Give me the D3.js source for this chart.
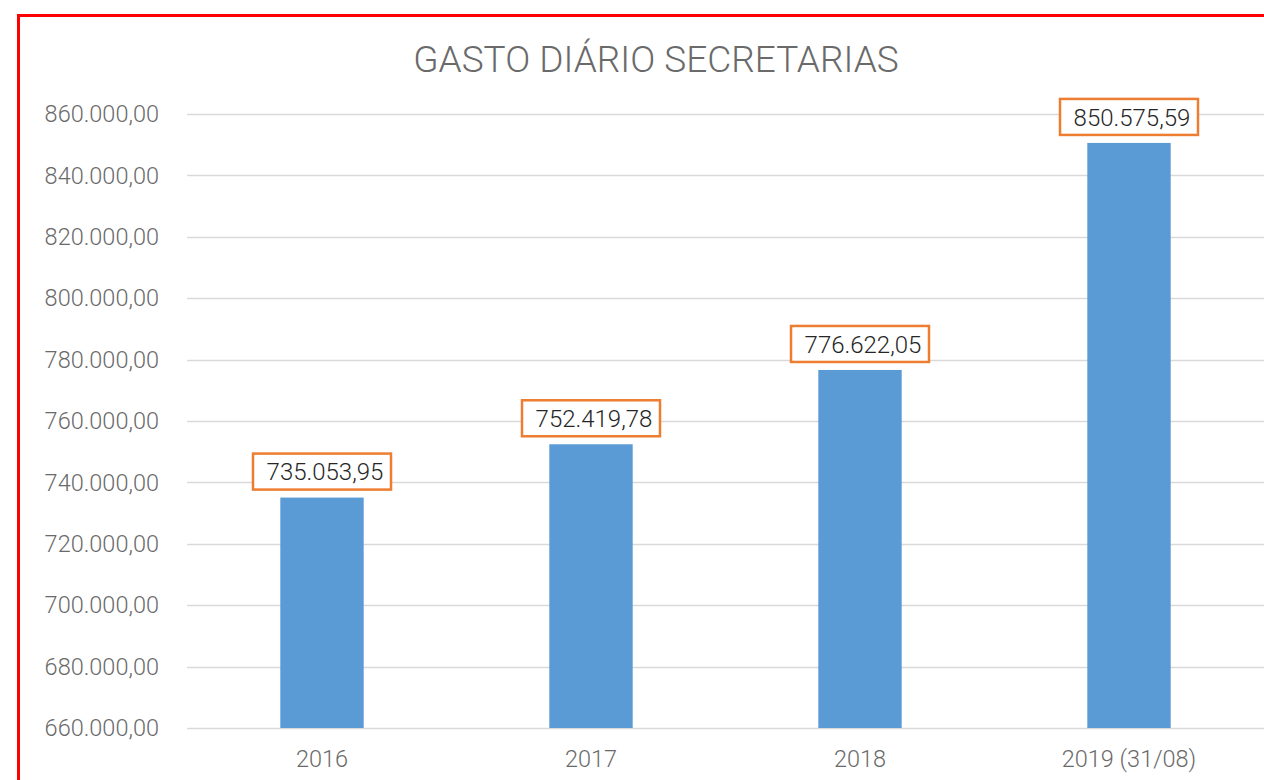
<!DOCTYPE html>
<html>
<head>
<meta charset="utf-8">
<script src="https://cdn.jsdelivr.net/npm/d3@7"></script>
<style>
  html, body { margin: 0; padding: 0; background: #fff; }
  svg { display: block; font-family: "Roboto Light", Roboto, "Noto Sans", sans-serif; }
</style>
</head>
<body>
<div id="chart"></div>
<script>
// dados
const categories = ["2016", "2017", "2018", "2019 (31/08)"];
const values = [735053.95, 752419.78, 776622.05, 850575.59];
const valueLabels = ["735.053,95", "752.419,78", "776.622,05", "850.575,59"];
const yTicks = [660000, 680000, 700000, 720000, 740000, 760000, 780000, 800000, 820000, 840000, 860000];
const title = "GASTO DIÁRIO SECRETARIAS";

const width = 1264, height = 780;
const svg = d3.select('#chart').append('svg')
    .attr('width', width)
    .attr('height', height);

svg.append('rect').attr('width', width).attr('height', height).attr('fill', '#fff');

// moldura vermelha
svg.append('rect')
    .attr('x', 18.5).attr('y', 15.5)
    .attr('width', 1300).attr('height', 800)
    .attr('fill', 'none')
    .attr('stroke', '#ff0000')
    .attr('stroke-width', 3);

const x = d3.scaleBand().domain(categories).range([187.5, 1263.5]).padding(0);
const y = d3.scaleLinear().domain([660000, 860000]).range([728, 114]);

// título
svg.append('text')
    .attr('x', 656).attr('y', 72)
    .attr('text-anchor', 'middle')
    .attr('font-size', 37)
    .attr('font-weight', 300)
    .attr('fill', '#6a6a6a')
    .text(title);

// grade
svg.append('g').selectAll('line')
    .data(yTicks)
    .join('line')
    .attr('x1', 187).attr('x2', width)
    .attr('y1', d => Math.round(y(d)) + 0.5)
    .attr('y2', d => Math.round(y(d)) + 0.5)
    .attr('stroke', '#d9d9d9')
    .attr('stroke-width', 1.5);

// rótulos eixo y
const fmt = d3.formatLocale({ decimal: ',', thousands: '.', grouping: [3] }).format(',.2f');
svg.append('g').selectAll('text')
    .data(yTicks)
    .join('text')
    .attr('x', 159)
    .attr('y', d => y(d))
    .attr('dy', '0.35em')
    .attr('text-anchor', 'end')
    .attr('font-size', 23.5)
    .attr('font-weight', 300)
    .attr('fill', '#6a6a6a')
    .text(d => fmt(d));

// barras
const barW = x.bandwidth() * 0.31;
svg.append('g').selectAll('rect')
    .data(values)
    .join('rect')
    .attr('x', (d, i) => x(categories[i]) + (x.bandwidth() - barW) / 2)
    .attr('y', d => y(d))
    .attr('width', barW)
    .attr('height', d => y(660000) - y(d))
    .attr('fill', '#5b9bd5');

// rótulos eixo x
svg.append('g').selectAll('text')
    .data(categories)
    .join('text')
    .attr('x', d => x(d) + x.bandwidth() / 2)
    .attr('y', 759)
    .attr('dy', '0.35em')
    .attr('text-anchor', 'middle')
    .attr('font-size', 23.5)
    .attr('font-weight', 300)
    .attr('fill', '#6a6a6a')
    .text(d => d);

// rótulos de dados com caixa
const boxW = 138, boxH = 36;
const lbl = svg.append('g').selectAll('g')
    .data(values)
    .join('g')
    .attr('transform', (d, i) => `translate(${x(categories[i]) + x.bandwidth() / 2},${y(d) - 8 - boxH / 2})`);

lbl.append('rect')
    .attr('x', -boxW / 2).attr('y', -boxH / 2)
    .attr('width', boxW).attr('height', boxH)
    .attr('fill', '#fff')
    .attr('stroke', '#ed7d31')
    .attr('stroke-width', 2.5);

lbl.append('text')
    .attr('dy', '0.36em')
    .attr('x', 3)
    .attr('text-anchor', 'middle')
    .attr('font-size', 24)
    .attr('font-weight', 300)
    .attr('fill', '#262626')
    .text((d, i) => valueLabels[i]);
</script>
</body>
</html>
